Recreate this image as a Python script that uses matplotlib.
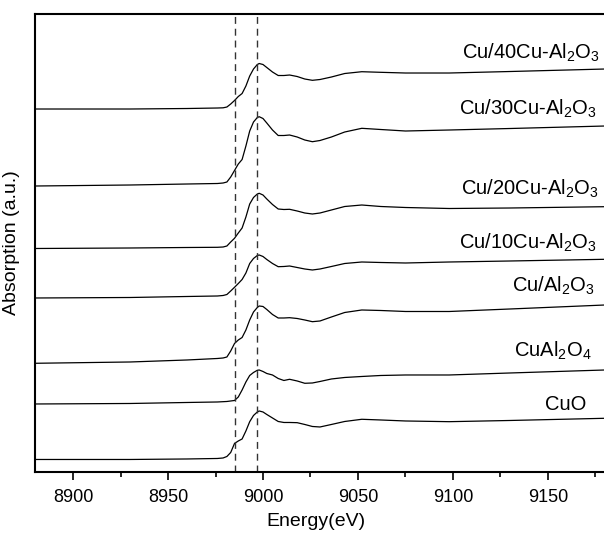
import numpy as np
import matplotlib
matplotlib.use("Agg")
import matplotlib.pyplot as plt
from matplotlib.ticker import MultipleLocator

plt.rcParams['font.family'] = ['Liberation Sans', 'DejaVu Sans']
plt.rcParams['mathtext.fontset'] = 'custom'
plt.rcParams['mathtext.rm'] = 'Liberation Sans'
plt.rcParams['mathtext.default'] = 'regular'

# energy grid (eV) shared by all spectra
energy = [8880, 8930, 8960, 8976, 8979, 8981, 8983, 8985, 8987, 8989, 8991,
          8993, 8995, 8997, 8998, 9000, 9002, 9005, 9008, 9011, 9014, 9018,
          9022, 9026, 9030, 9036, 9043, 9052, 9062, 9075, 9098, 9130, 9180]

# stacked absorption values (a.u.)
cu40 = [3.63, 3.63, 3.635, 3.64, 3.642, 3.65, 3.68, 3.715, 3.755, 3.785, 3.86,
        3.96, 4.03, 4.075, 4.085, 4.075, 4.045, 4.00, 3.965, 3.965, 3.97, 3.955,
        3.93, 3.917, 3.925, 3.95, 3.985, 4.003, 3.997, 3.99, 3.99, 4.005, 4.03]
cu30 = [2.86, 2.87, 2.88, 2.885, 2.89, 2.90, 2.95, 3.015, 3.08, 3.125, 3.26,
        3.41, 3.50, 3.545, 3.553, 3.535, 3.49, 3.42, 3.365, 3.365, 3.37, 3.35,
        3.32, 3.303, 3.315, 3.35, 3.40, 3.437, 3.425, 3.41, 3.42, 3.435, 3.46]
cu20 = [2.235, 2.24, 2.245, 2.247, 2.25, 2.26, 2.30, 2.337, 2.39, 2.44, 2.55,
        2.68, 2.745, 2.78, 2.787, 2.77, 2.73, 2.675, 2.63, 2.625, 2.627, 2.61,
        2.59, 2.58, 2.59, 2.62, 2.655, 2.67, 2.655, 2.645, 2.635, 2.64, 2.653]
cu10 = [1.74, 1.745, 1.755, 1.76, 1.765, 1.775, 1.81, 1.847, 1.885, 1.925, 1.99,
        2.085, 2.135, 2.165, 2.17, 2.155, 2.125, 2.085, 2.053, 2.055, 2.06, 2.045,
        2.03, 2.02, 2.03, 2.055, 2.085, 2.10, 2.095, 2.09, 2.10, 2.11, 2.127]
cu_al2o3 = [1.087, 1.10, 1.12, 1.135, 1.14, 1.15, 1.21, 1.285, 1.32, 1.345, 1.42,
            1.52, 1.60, 1.645, 1.66, 1.655, 1.625, 1.575, 1.54, 1.54, 1.543, 1.535,
            1.52, 1.503, 1.51, 1.55, 1.595, 1.62, 1.615, 1.605, 1.605, 1.63, 1.67]
cual2o4 = [0.68, 0.685, 0.695, 0.70, 0.703, 0.705, 0.71, 0.715, 0.75, 0.82, 0.90,
           0.965, 0.995, 1.017, 1.02, 1.005, 0.985, 0.97, 0.935, 0.915, 0.927, 0.91,
           0.887, 0.89, 0.905, 0.93, 0.945, 0.955, 0.965, 0.97, 0.97, 0.99, 1.02]
cuo = [0.125, 0.125, 0.13, 0.135, 0.14, 0.155, 0.195, 0.285, 0.31, 0.33, 0.41,
       0.503, 0.565, 0.60, 0.61, 0.60, 0.575, 0.54, 0.505, 0.495, 0.495, 0.493,
       0.475, 0.455, 0.45, 0.475, 0.505, 0.527, 0.52, 0.51, 0.503, 0.515, 0.537]

spectra = [cu40, cu30, cu20, cu10, cu_al2o3, cual2o4, cuo]
labels = ['Cu/40Cu-Al$_2$O$_3$', 'Cu/30Cu-Al$_2$O$_3$', 'Cu/20Cu-Al$_2$O$_3$',
          'Cu/10Cu-Al$_2$O$_3$', 'Cu/Al$_2$O$_3$', 'CuAl$_2$O$_4$', 'CuO']
label_x = [9177.4, 9175.8, 9176.8, 9175.8, 9174.7, 9173, 9170]
label_y = [4.137, 3.57, 2.77, 2.237, 1.803, 1.153, 0.62]
ref_lines = [8985, 8997]

fig = plt.figure(figsize=(6.04, 5.35), dpi=100)
ax = fig.add_axes([0.058, 0.1178, 0.942, 0.8560])

for y in spectra:
    ax.plot(energy, y, color='black', lw=0.9)
for e in ref_lines:
    ax.axvline(e, color='#333333', lw=1.0, ls=(0, (5, 3.5)))
for lab, lx, ly in zip(labels, label_x, label_y):
    ax.text(lx, ly, lab, ha='right', va='baseline', fontsize=14.5)

ax.set_xlim(8880, 9179.5)
ax.set_ylim(0, 4.58)
ax.xaxis.set_major_locator(MultipleLocator(50))
ax.xaxis.set_minor_locator(MultipleLocator(25))
ax.set_yticks([])
ax.tick_params(axis='x', which='major', length=6, width=1.2, labelsize=13,
               direction='out', pad=6)
ax.tick_params(axis='x', which='minor', length=3.5, width=1.2, direction='out')
for s in ['left', 'top', 'bottom']:
    ax.spines[s].set_linewidth(1.5)
ax.spines['right'].set_visible(False)

ax.set_xlabel('Energy(eV)', fontsize=14)
ax.xaxis.set_label_coords(0.494, -0.09)
ax.set_ylabel('Absorption (a.u.)', fontsize=14)
ax.yaxis.set_label_coords(-0.027, 0.5)

fig.savefig('out.png', dpi=100)
